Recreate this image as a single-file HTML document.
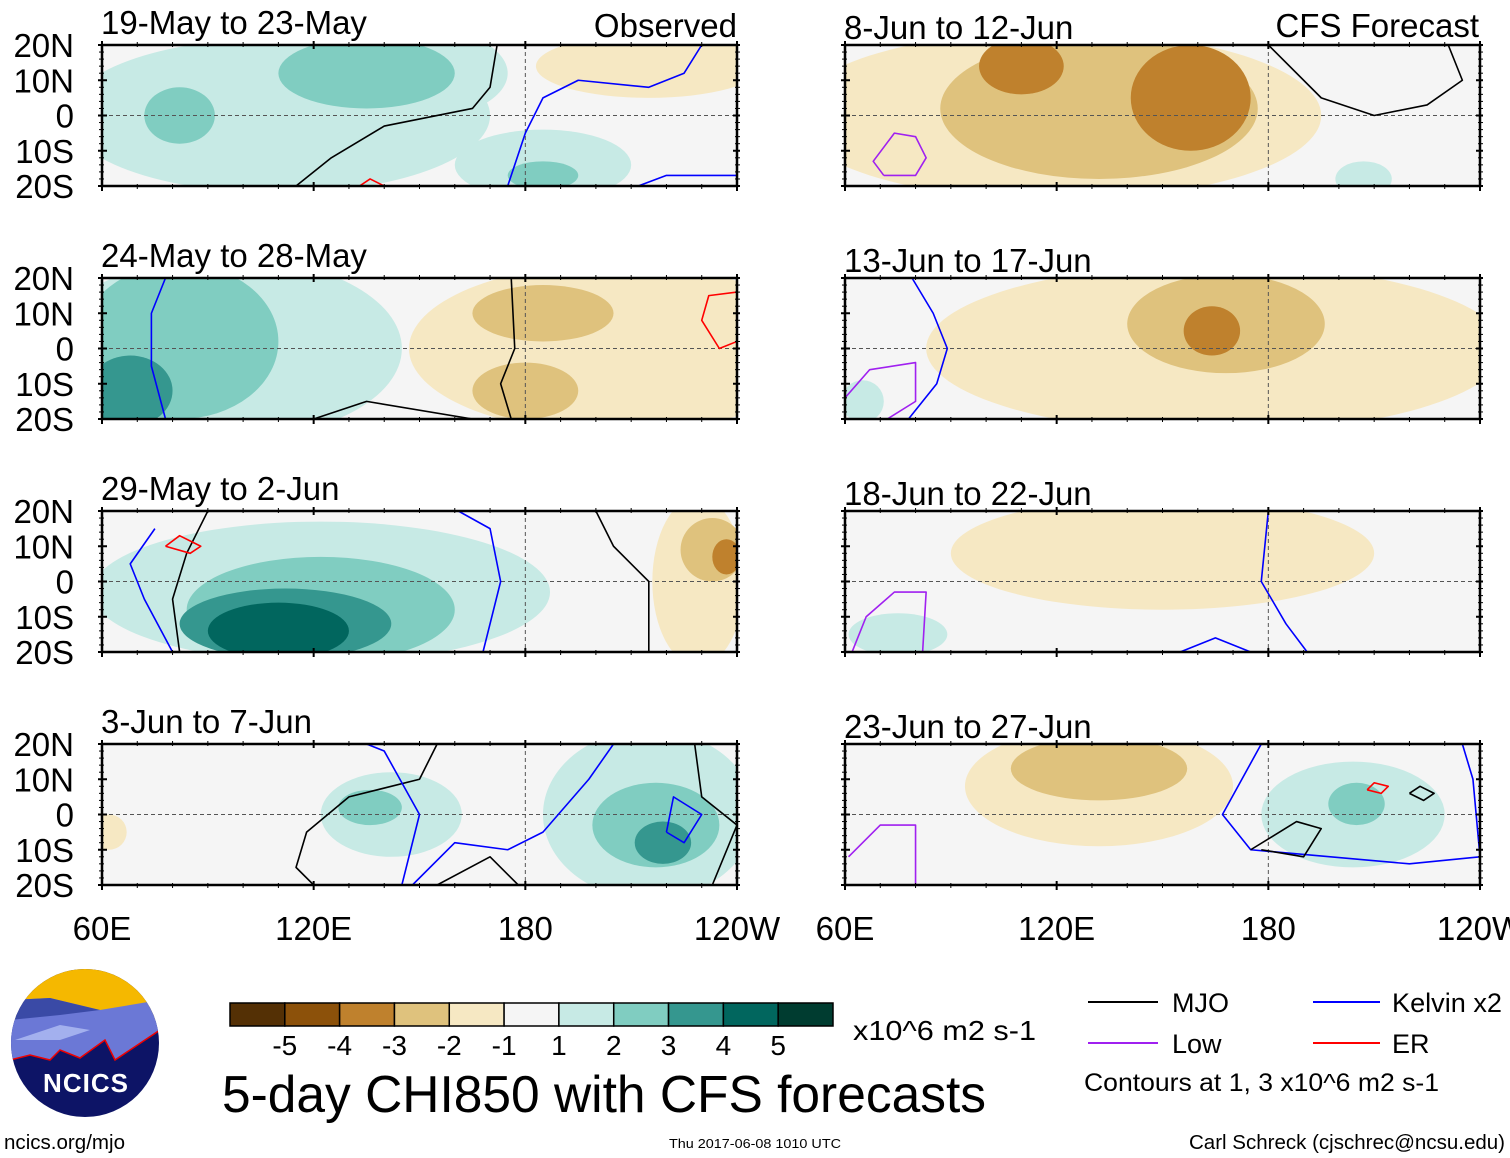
<!DOCTYPE html>
<html><head><meta charset="utf-8"><style>
body{margin:0;background:#fff;font-family:"Liberation Sans",sans-serif}
svg{display:block}
</style></head><body>
<svg id="s" width="1510" height="1158" xmlns="http://www.w3.org/2000/svg" font-family="Liberation Sans, sans-serif">
<g id="panels"></g>
<g id="colorbar"></g>
<text x="853" y="1040" font-size="28" textLength="183" lengthAdjust="spacingAndGlyphs">x10^6 m2 s-1</text>
<text x="222" y="1112" font-size="52" textLength="764" lengthAdjust="spacingAndGlyphs">5-day CHI850 with CFS forecasts</text>
<g>
<line x1="1088" y1="1002" x2="1158" y2="1002" stroke="#000" stroke-width="2"/>
<text x="1172" y="1012" font-size="27">MJO</text>
<line x1="1088" y1="1043" x2="1158" y2="1043" stroke="#a020f0" stroke-width="2"/>
<text x="1172" y="1053" font-size="27">Low</text>
<line x1="1313" y1="1002" x2="1380" y2="1002" stroke="#0000ff" stroke-width="2"/>
<text x="1392" y="1012" font-size="27" textLength="110" lengthAdjust="spacingAndGlyphs">Kelvin x2</text>
<line x1="1313" y1="1043" x2="1380" y2="1043" stroke="#ff0000" stroke-width="2"/>
<text x="1392" y="1053" font-size="27">ER</text>
<text x="1084" y="1091" font-size="25" textLength="355" lengthAdjust="spacingAndGlyphs">Contours at 1, 3 x10^6 m2 s-1</text>
</g>
<g>
<clipPath id="lc"><circle cx="85" cy="1043" r="74"/></clipPath>
<g clip-path="url(#lc)">
<rect x="0" y="960" width="170" height="170" fill="#0d1466"/>
<rect x="0" y="960" width="170" height="60" fill="#f5b800"/>
<path d="M10 1000 L50 998 L100 1010 L160 1000 L160 1030 L130 1050 L115 1060 L105 1040 L80 1058 L60 1050 L50 1060 L30 1055 L10 1060Z" fill="#6b78d6"/>
<path d="M10 1000 L50 998 L100 1010 L60 1015 L10 1020Z" fill="#3a4aa6"/>
<path d="M15 1040 L60 1025 L90 1030 L60 1040Z" fill="#a3b0ee"/>
<path d="M10 1060 L30 1055 L50 1060 L60 1050 L80 1058 L105 1040 L115 1060 L130 1050 L160 1030" fill="none" stroke="#e00" stroke-width="1.5"/>
</g>
<text x="86" y="1092" font-size="26" font-weight="bold" fill="#fff" text-anchor="middle" letter-spacing="1">NCICS</text>
</g>
<text x="4" y="1149" font-size="20" textLength="121" lengthAdjust="spacingAndGlyphs">ncics.org/mjo</text>
<text x="755" y="1148" font-size="13" text-anchor="middle" textLength="172" lengthAdjust="spacingAndGlyphs">Thu 2017-06-08 1010 UTC</text>
<text x="1505" y="1149" font-size="20" text-anchor="end" textLength="316" lengthAdjust="spacingAndGlyphs">Carl Schreck (cjschrec@ncsu.edu)</text>
</svg>
<script>
const levelColors=["#543005","#8c510a","#bf812d","#dfc27d","#f6e8c3","#f5f5f5","#c7eae5","#80cdc1","#35978f","#01665e","#003c30"];
const cbLabels=["-5","-4","-3","-2","-1","1","2","3","4","5"];
const panelTitles=["19-May to 23-May","24-May to 28-May","29-May to 2-Jun","3-Jun to 7-Jun","8-Jun to 12-Jun","13-Jun to 17-Jun","18-Jun to 22-Jun","23-Jun to 27-Jun"];
const latLabels=["20N","10N","0","10S","20S"];
const lonLabels=["60E","120E","180","120W"];
// blobs: [lon, lat, halfLonWidth, halfLatHeight, level(-4..4)]
const blobs0=[[110,0,60,22,1],[145,12,30,14,1],[185,-14,25,10,1],[135,12,25,10,2],[82,0,10,8,2],[185,-17,10,4,2],[215,14,32,9,-1]];
const blobs1=[[95,0,50,26,1],[82,2,28,22,2],[68,-12,12,10,3],[205,0,58,24,-1],[185,10,20,8,-2],[180,-12,15,8,-2],[218,-2,12,6,0]];
const blobs2=[[122,-3,65,20,1],[122,-8,38,15,2],[112,-12,30,10,3],[110,-14,20,8,4],[229,0,13,24,-1],[233,9,9,9,-2],[237,7,4,5,-3]];
const blobs3=[[142,0,20,12,1],[136,2,9,5,2],[215,0,30,24,1],[217,-3,18,12,2],[219,-8,8,6,3],[62,-5,5,5,-1]];
const blobs4=[[120,0,75,24,-1],[132,2,45,20,-2],[110,14,12,8,-3],[158,5,17,15,-3],[207,-18,8,5,1]];
const blobs5=[[165,0,82,24,-1],[168,7,28,14,-2],[164,5,8,7,-3],[65,-15,6,6,1]];
const blobs6=[[150,8,60,16,-1],[75,-15,14,6,1]];
const blobs7=[[132,8,38,17,-1],[132,13,25,9,-2],[204,0,26,15,1],[205,3,8,6,2]];
const allBlobs=[blobs0,blobs1,blobs2,blobs3,blobs4,blobs5,blobs6,blobs7];
const lines0=[["mjo",[115,-20,125,-12,140,-3,165,2,170,8,172,20]],["kelvin",[175,-20,180,-5,185,5,195,10,215,8,225,12,230,20]],["kelvin",[212,-20,220,-17,240,-17]],["er",[133,-20,136,-18,140,-20]]],
lines1=[["kelvin",[78,-20,74,-5,74,10,78,20]],["mjo",[176,-20,173,-10,177,0,176,20]],["mjo",[120,-20,135,-15,165,-20]],["er",[240,16,232,15,230,8,235,0,240,2]]],
lines2=[["mjo",[82,-20,80,-5,84,8,90,20]],["kelvin",[80,-20,72,-5,68,5,75,15]],["kelvin",[161,20,170,15,173,0,168,-20]],["mjo",[200,20,205,10,215,0,215,-20]],["er",[78,10,82,13,88,10,85,8,78,10]]],
lines3=[["mjo",[120,-20,115,-15,118,-5,130,5,150,10,155,20]],["kelvin",[135,20,140,18,150,0,145,-20]],["kelvin",[148,-20,160,-8,175,-10,185,-5,198,10,205,20]],["mjo",[155,-20,170,-12,178,-20]],["kelvin",[220,-5,225,-8,230,0,222,5,220,-5]],["mjo",[228,20,230,5,240,-3,233,-20]]],
lines4=[["mjo",[180,20,195,5,210,0,225,3,235,10,231,20]],["low",[71,-17,68,-13,74,-5,80,-6,83,-12,80,-17,71,-17]]],
lines5=[["kelvin",[79,20,85,10,89,0,86,-10,78,-20]],["low",[60,-14,67,-6,80,-4,80,-15,72,-20]]],
lines6=[["kelvin",[180,20,178,0,185,-12,191,-20]],["low",[62,-20,66,-10,74,-3,83,-3,82,-20]],["kelvin",[155,-20,165,-16,175,-20]]],
lines7=[["kelvin",[178,20,167,0,175,-10,220,-14,240,-12,238,10,235,20]],["low",[61,-12,70,-3,80,-3,80,-20]],["mjo",[175,-10,188,-2,195,-4,190,-12,178,-10]],["er",[208,7,212,6,214,8,210,9,208,7]],["mjo",[220,6,224,4,227,6,223,8,220,6]]];
const allLines=[lines0,lines1,lines2,lines3,lines4,lines5,lines6,lines7];
const lineColors={mjo:"#000",kelvin:"#0000ff",low:"#a020f0",er:"#ff0000"};

const NS="http://www.w3.org/2000/svg";
function mk(tag,attrs,parent){const e=document.createElementNS(NS,tag);for(const k in attrs)e.setAttribute(k,attrs[k]);parent.appendChild(e);return e;}
const root=document.getElementById("panels");
const PW=635,PH=141;
function levelColor(lv){return levelColors[5+lv];}
for(let p=0;p<8;p++){
  const col=p<4?0:1,row=p%4;
  const x0=col?845:102,y0=45+row*233;
  const xs=lon=>x0+(lon-60)/180*PW, ys=lat=>y0+(20-lat)/40*PH;
  const g=mk("g",{},root);
  
  
  const cid="c"+p;
  const cp=mk("clipPath",{id:cid},g);mk("rect",{x:x0,y:y0,width:PW,height:PH},cp);
  const inner=mk("g",{"clip-path":"url(#"+cid+")"},g);
  mk("rect",{x:x0,y:y0,width:PW,height:PH,fill:"#f5f5f5"},inner);
  const bl=allBlobs[p].slice().sort((a,b)=>Math.abs(a[4])-Math.abs(b[4]));
  bl.forEach(b=>{const e=mk("ellipse",{cx:xs(b[0]),cy:ys(b[1]),rx:b[2]/180*PW,ry:b[3]/40*PH,fill:levelColor(b[4])},inner);
    
    });
  mk("line",{x1:x0,y1:ys(0),x2:x0+PW,y2:ys(0),stroke:"#555","stroke-dasharray":"4 3","stroke-width":1},inner);
  mk("line",{x1:xs(180),y1:y0,x2:xs(180),y2:y0+PH,stroke:"#555","stroke-dasharray":"4 3","stroke-width":1},inner);
  allLines[p].forEach(l=>{const pts=[];for(let i=0;i<l[1].length;i+=2)pts.push(xs(l[1][i])+","+ys(l[1][i+1]));
    const e=mk("polyline",{points:pts.join(" "),fill:"none",stroke:lineColors[l[0]],"stroke-width":1.6,"stroke-linejoin":"round"},inner);
    
    });
  mk("rect",{x:x0,y:y0,width:PW,height:PH,fill:"none",stroke:"#000","stroke-width":2.5},g);
  for(let lon=60;lon<=240;lon+=10){const maj=lon%60==0;
    mk("line",{x1:xs(lon),y1:y0-(maj?4:3),x2:xs(lon),y2:y0+(maj?4:2),stroke:"#000","stroke-width":maj?2:1},g);
    mk("line",{x1:xs(lon),y1:y0+PH-(maj?4:2),x2:xs(lon),y2:y0+PH+(maj?5:3),stroke:"#000","stroke-width":maj?2:1},g);}
  for(let lat=-20;lat<=20;lat+=2){const maj=lat%10==0;
    mk("line",{x1:x0-(maj?4:3),y1:ys(lat),x2:x0+(maj?5:2),y2:ys(lat),stroke:"#000","stroke-width":maj?2:1},g);
    mk("line",{x1:x0+PW-(maj?4:2),y1:ys(lat),x2:x0+PW+3,y2:ys(lat),stroke:"#000","stroke-width":maj?2:1},g);}
  const t=mk("text",{x:x0-1,y:y0-(col?6:11),"font-size":33},g);t.textContent=panelTitles[p];
  
  
  if(col==0){latLabels.forEach((s,i)=>{const e=mk("text",{x:74,y:y0+i*PH/4+12,"font-size":33,"text-anchor":"end"},g);e.textContent=s;
    
    });}
  if(row==3){lonLabels.forEach((s,i)=>{const e=mk("text",{x:xs(60+i*60),y:940,"font-size":33,"text-anchor":"middle"},g);e.textContent=s;
    
    });}
}
const s=document.getElementById("s");
const ob=mk("text",{x:737,y:37,"font-size":33,"text-anchor":"end"},s);ob.textContent="Observed";

const fc=mk("text",{x:1479,y:37,"font-size":33,"text-anchor":"end"},s);fc.textContent="CFS Forecast";

const cb=document.getElementById("colorbar");
const cbx=230,cbw=603/11;
levelColors.forEach((c,i)=>{const r=mk("rect",{x:cbx+i*cbw,y:1003,width:cbw,height:23,fill:c,stroke:"#000","stroke-width":1.5},cb);
  });
cbLabels.forEach((t,i)=>{const e=mk("text",{x:cbx+(i+1)*cbw,y:1055,"font-size":28,"text-anchor":"middle"},cb);e.textContent=t;
  });
</script>
</body></html>
